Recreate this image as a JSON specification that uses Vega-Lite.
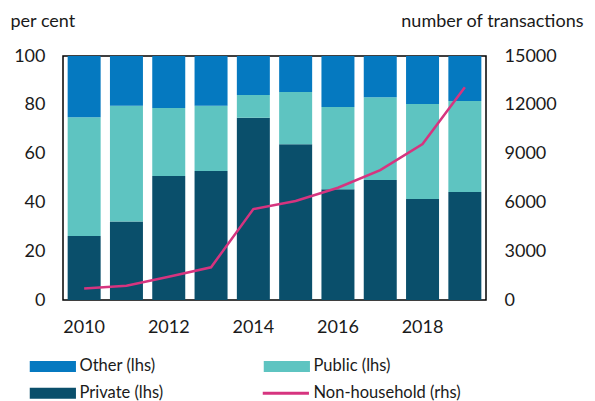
{
  "$schema": "https://vega.github.io/schema/vega-lite/v6.json",
  "width": 423,
  "height": 244,
  "autosize": {"type": "none"},
  "padding": {"left": 63, "top": 56, "right": 109, "bottom": 101},
  "background": "white",
  "config": {
    "font": "Lato",
    "view": {"stroke": "black", "strokeWidth": 1.5},
    "axis": {"labelFont": "Lato", "titleFont": "Lato", "labelColor": "#1a1a1a", "titleColor": "#1a1a1a", "grid": false, "ticks": false, "domain": false, "labelFontSize": 18, "titleFontSize": 18, "titleFontWeight": "normal"},
    "legend": {"labelFont": "Lato", "labelFontSize": 16.5, "labelColor": "#1a1a1a", "labelLimit": 300}
  },
  "datasets": {
    "shares": [
      {"year": "2010", "series": "Private (lhs)", "value": 26.2},
      {"year": "2010", "series": "Public (lhs)", "value": 48.7},
      {"year": "2010", "series": "Other (lhs)", "value": 25.1},
      {"year": "2011", "series": "Private (lhs)", "value": 32.2},
      {"year": "2011", "series": "Public (lhs)", "value": 47.4},
      {"year": "2011", "series": "Other (lhs)", "value": 20.4},
      {"year": "2012", "series": "Private (lhs)", "value": 50.8},
      {"year": "2012", "series": "Public (lhs)", "value": 27.9},
      {"year": "2012", "series": "Other (lhs)", "value": 21.3},
      {"year": "2013", "series": "Private (lhs)", "value": 52.9},
      {"year": "2013", "series": "Public (lhs)", "value": 26.7},
      {"year": "2013", "series": "Other (lhs)", "value": 20.4},
      {"year": "2014", "series": "Private (lhs)", "value": 74.7},
      {"year": "2014", "series": "Public (lhs)", "value": 9.3},
      {"year": "2014", "series": "Other (lhs)", "value": 16.0},
      {"year": "2015", "series": "Private (lhs)", "value": 63.8},
      {"year": "2015", "series": "Public (lhs)", "value": 21.4},
      {"year": "2015", "series": "Other (lhs)", "value": 14.8},
      {"year": "2016", "series": "Private (lhs)", "value": 45.4},
      {"year": "2016", "series": "Public (lhs)", "value": 33.7},
      {"year": "2016", "series": "Other (lhs)", "value": 20.9},
      {"year": "2017", "series": "Private (lhs)", "value": 49.2},
      {"year": "2017", "series": "Public (lhs)", "value": 33.9},
      {"year": "2017", "series": "Other (lhs)", "value": 16.9},
      {"year": "2018", "series": "Private (lhs)", "value": 41.4},
      {"year": "2018", "series": "Public (lhs)", "value": 38.9},
      {"year": "2018", "series": "Other (lhs)", "value": 19.7},
      {"year": "2019", "series": "Private (lhs)", "value": 44.3},
      {"year": "2019", "series": "Public (lhs)", "value": 37.3},
      {"year": "2019", "series": "Other (lhs)", "value": 18.4}
    ],
    "transactions": [
      {"year": "2010", "count": 700},
      {"year": "2011", "count": 880},
      {"year": "2012", "count": 1430},
      {"year": "2013", "count": 2010},
      {"year": "2014", "count": 5590},
      {"year": "2015", "count": 6090},
      {"year": "2016", "count": 6900},
      {"year": "2017", "count": 7990},
      {"year": "2018", "count": 9590},
      {"year": "2019", "count": 13080}
    ]
  },
  "encoding": {
    "x": {
      "field": "year", "type": "ordinal",
      "scale": {"paddingInner": 0.22, "paddingOuter": 0.11},
      "axis": {"title": null, "labelAngle": 0, "values": ["2010", "2012", "2014", "2016", "2018"], "labelPadding": 18}
    }
  },
  "layer": [
    {
      "data": {"name": "shares"},
      "transform": [
        {"calculate": "indexof(['Private (lhs)', 'Public (lhs)', 'Other (lhs)'], datum.series)", "as": "stackOrder"}
      ],
      "mark": {"type": "bar", "stroke": null},
      "encoding": {
        "y": {
          "field": "value", "type": "quantitative", "stack": "zero",
          "scale": {"domain": [0, 100], "nice": false},
          "axis": {"orient": "left", "values": [0, 20, 40, 60, 80, 100], "labelPadding": 18, "title": "per cent", "titleAngle": 0, "titleX": -53, "titleY": -30, "titleAlign": "left", "titleBaseline": "alphabetic"}
        },
        "color": {
          "field": "series", "type": "nominal",
          "scale": {"domain": ["Other (lhs)", "Private (lhs)", "Public (lhs)"], "range": ["#0579C0", "#0A4F6B", "#5EC4C1"]},
          "legend": {
            "title": null, "orient": "none", "legendX": -36, "legendY": 302, "columns": 2, "columnPadding": 97, "rowPadding": 10,
            "symbolType": "M-1,-1H7.4V1H-1Z", "symbolSize": 121, "symbolStrokeWidth": 0, "labelOffset": 36
          }
        },
        "order": {"field": "stackOrder", "type": "quantitative", "sort": "ascending"}
      }
    },
    {
      "data": {"name": "transactions"},
      "mark": {"type": "line", "strokeWidth": 2.5},
      "encoding": {
        "y": {
          "field": "count", "type": "quantitative",
          "scale": {"domain": [0, 15000], "nice": false},
          "axis": {"orient": "right", "values": [0, 3000, 6000, 9000, 12000, 15000], "format": "d", "labelPadding": 18, "title": "number of transactions", "titleAngle": 0, "titleX": 97, "titleY": -30, "titleAlign": "right", "titleBaseline": "alphabetic"}
        },
        "stroke": {
          "datum": "Non-household (rhs)",
          "scale": {"range": ["#D6347F"]},
          "legend": {
            "title": null, "orient": "none", "legendX": 197, "legendY": 329,
            "symbolType": "M-1,0H7.4", "symbolSize": 121, "symbolStrokeWidth": 3, "labelOffset": 37
          }
        }
      }
    }
  ],
  "resolve": {"scale": {"y": "independent"}}
}
